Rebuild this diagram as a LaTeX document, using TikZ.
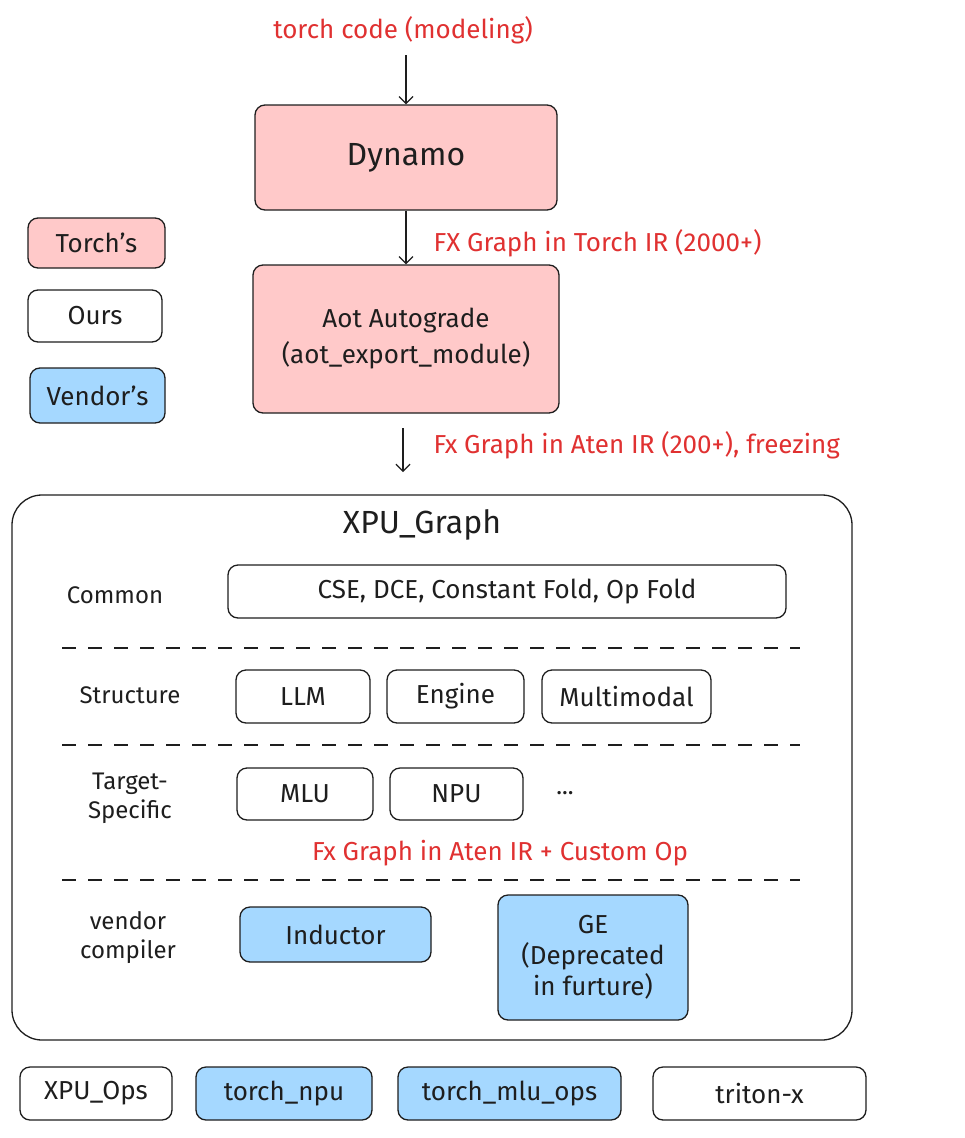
\documentclass[tikz,border=0pt]{standalone}
\usepackage{fontspec}
\setmainfont{Fira Sans}
\usetikzlibrary{arrows.meta}
\definecolor{pinkf}{HTML}{FFC9C9}
\definecolor{bluef}{HTML}{A5D8FF}
\definecolor{redt}{HTML}{E03131}
\definecolor{ink}{HTML}{1E1E1E}
\begin{document}
\begin{tikzpicture}[x=1pt,y=-1pt,
  box/.style={draw=ink,line width=1.3pt,rounded corners=10pt,align=center,inner sep=0pt},
  lbl/.style={align=center,font=\fontsize{24}{29}\selectfont,text=ink},
  bt/.style={align=center,font=\fontsize{26}{31}\selectfont,text=ink},
  rtxt/.style={text=redt,font=\fontsize{26}{31}\selectfont},
  arr/.style={-{Straight Barb[length=7pt]},line width=1.2pt,draw=ink},
  sepline/.style={draw=ink,line width=1.3pt,dash pattern=on 14pt off 12pt}]
\useasboundingbox (0,0) rectangle (964,1138);
\newcommand{\bx}[6]{\node[box,fill=#6,minimum width=#4-#2,minimum height=#5-#3] (#1) at ({(#2+#4)/2},{(#3+#5)/2}) {};}
% top chain
\node[rtxt] (tc) at (403,30) {torch code (modeling)};
\bx{dyn}{255}{105}{557}{210}{pinkf}
\node[font=\fontsize{32}{36}\selectfont,text=ink] at (dyn) {Dynamo};
\bx{aot}{253}{265}{559}{413}{pinkf}
\node[bt,font=\fontsize{26}{36}\selectfont] at (aot) {Aot Autograde\\(aot\_export\_module)};
\coordinate (t0) at (406,55);
\draw[arr] (t0) -- (dyn.north);
\draw[arr] (dyn.south) -- (aot.north);
\node[rtxt,anchor=west] at (430,243) {FX Graph in Torch IR (2000+)};
\coordinate (a1) at (403,428);
\coordinate (a2) at (403,472);
\draw[arr] (a1) -- (a2);
\node[rtxt,anchor=west] at (430,445) {Fx Graph in Aten IR (200+), freezing};
% legend
\bx{l1}{28}{218}{165}{268}{pinkf}\node[bt] at (l1) {Torch's};
\bx{l2}{28}{290}{162}{342}{white}\node[bt] at (l2) {Ours};
\bx{l3}{30}{368}{165}{423}{bluef}\node[bt] at (l3) {Vendor's};
% big box
\node[draw=ink,line width=1.3pt,rounded corners=30pt,minimum width=840,minimum height=545,inner sep=0pt] (xg) at (432,767.5) {};
\node[font=\fontsize{32}{36}\selectfont,text=ink] at (422,525) {XPU\_Graph};
\node[lbl] at (115,595) {Common};
\bx{c1}{228}{565}{786}{618}{white}\node[bt] at (c1) {CSE, DCE, Constant Fold, Op Fold};
\draw[sepline] (62,648) -- (800,648);
\node[lbl] at (130,695) {Structure};
\bx{s1}{236}{670}{370}{723}{white}\node[bt] at (s1) {LLM};
\bx{s2}{387}{670}{524}{723}{white}\node[bt] at (s2) {Engine};
\bx{s3}{542}{670}{711}{723}{white}\node[bt] at (s3) {Multimodal};
\draw[sepline] (62,745) -- (800,745);
\node[lbl] at (130,798) {Target-\\Specific};
\bx{t1}{237}{768}{373}{820}{white}\node[bt] at (t1) {MLU};
\bx{t2}{390}{768}{523}{820}{white}\node[bt] at (t2) {NPU};
\node[lbl] at (565,793) {...};
\node[rtxt] at (500,853) {Fx Graph in Aten IR + Custom Op};
\draw[sepline] (62,880) -- (800,880);
\node[lbl] at (128,938) {vendor\\compiler};
\bx{v1}{240}{907}{431}{962}{bluef}\node[bt] at (v1) {Inductor};
\bx{v2}{498}{895}{688}{1020}{bluef}\node[bt,font=\fontsize{26}{31}\selectfont] at (v2) {GE\\(Deprecated\\in furture)};
% bottom
\bx{b1}{20}{1067}{172}{1120}{white}\node[bt] at (b1) {XPU\_Ops};
\bx{b2}{196}{1067}{372}{1120}{bluef}\node[bt] at (b2) {torch\_npu};
\bx{b3}{398}{1067}{621}{1120}{bluef}\node[bt] at (b3) {torch\_mlu\_ops};
\bx{b4}{653}{1067}{866}{1120}{white}\node[bt] at (b4) {triton-x};
\end{tikzpicture}
\end{document}
